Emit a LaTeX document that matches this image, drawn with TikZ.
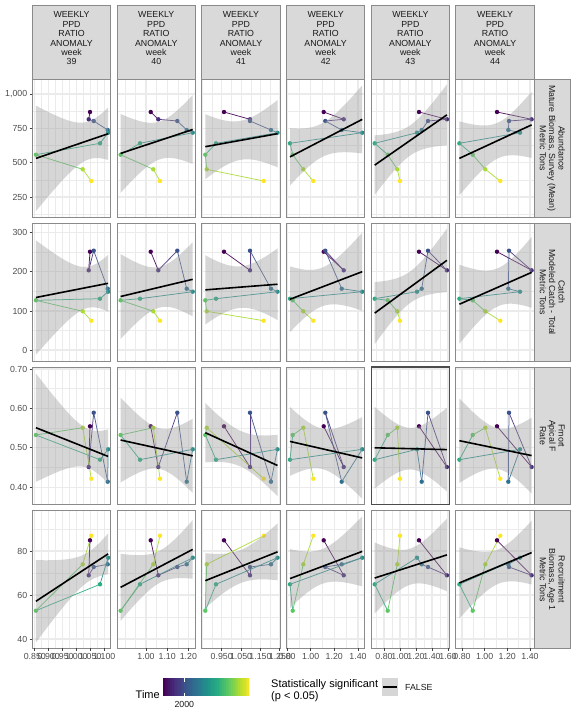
\documentclass[tikz,border=0pt]{standalone}
\usepackage{fontspec}
\setmainfont{Liberation Sans}
\definecolor{v0}{HTML}{440154}
\definecolor{v1}{HTML}{472D7B}
\definecolor{v2}{HTML}{3B528B}
\definecolor{v3}{HTML}{2C728E}
\definecolor{v4}{HTML}{21908C}
\definecolor{v5}{HTML}{27AD81}
\definecolor{v6}{HTML}{5DC863}
\definecolor{v7}{HTML}{AADC32}
\definecolor{v8}{HTML}{FDE725}
\definecolor{gridc}{HTML}{EBEBEB}
\definecolor{stripfill}{HTML}{D9D9D9}
\definecolor{bordc}{HTML}{8A8A8A}
\definecolor{axtext}{HTML}{4D4D4D}
\definecolor{bandc}{HTML}{999999}
\definecolor{keyfill}{HTML}{D6D6D6}
% data (pixel coordinates)
\def\cxA{{90,88.7,93.7,107.7,108.1,100,35.9,82.7,91.3}}
\def\cxB{{150.7,158.3,177.3,186.7,192.7,140,120.6,153.3,160}}
\def\cxC{{224,250,250,271,277.5,216,205.3,206.7,263.7}}
\def\cxD{{323.7,343.7,325.3,341.7,362.2,290,292.7,303.3,313.3}}
\def\cxE{{419,446.9,428,421.7,417,374.7,387.7,397.3,400}}
\def\cxF{{497,531.6,509,508.3,520,459.4,472.7,485.3,500.3}}
\def\ryA{{112,119.3,121,130,132.7,143.3,154.7,169.3,181}}
\def\ryB{{251.7,270.3,250.7,288.7,291.7,298.7,300.3,311.3,320.7}}
\def\ryC{{426.3,467,412.7,481.7,449.3,459.7,435,427.7,478.7}}
\def\ryD{{540.3,575.3,567,564.3,557.7,584.3,610.7,564.3,535.7}}
\def\setcolA{\def\pL{32.3}\def\pXarr{\cxA}\def\pXmaj{34.8,48.7,62.6,76.5,90.4,104.3}\def\pXmin{41.75,55.65,69.55,83.45,97.35}}
\def\setcolB{\def\pL{117.0}\def\pXarr{\cxB}\def\pXmaj{146,167.2,188.4}\def\pXmin{124.8,135.4,156.6,177.8}}
\def\setcolC{\def\pL{201.7}\def\pXarr{\cxC}\def\pXmaj{221.7,241.1,260.5,279.9}\def\pXmin{202.3,212,231.4,250.8,270.2}}
\def\setcolD{\def\pL{286.4}\def\pXarr{\cxD}\def\pXmaj{287,310.7,334.3,358}\def\pXmin{298.8,322.5,346.2}}
\def\setcolE{\def\pL{371.1}\def\pXarr{\cxE}\def\pXmaj{384,400,416,432,448}\def\pXmin{376,392,408,424,440}}
\def\setcolF{\def\pL{455.8}\def\pXarr{\cxF}\def\pXmaj{462,484.7,507.3,530}\def\pXmin{473.3,496,518.7}}
\def\setrowa{\def\pT{79.4}\def\pYarr{\ryA}\def\pYmaj{94,128.3,162.7,197}\def\pYmin{111.15,145.5,179.85,214.15}}
\def\setrowb{\def\pT{223.2}\def\pYarr{\ryB}\def\pYmaj{232.7,271.7,311,350}\def\pYmin{252.2,291.4,330.5}}
\def\setrowc{\def\pT{367.0}\def\pYarr{\ryC}\def\pYmaj{369,408.3,447.7,487.3}\def\pYmin{388.7,428,467.5}}
\def\setrowd{\def\pT{510.6}\def\pYarr{\ryD}\def\pYmaj{551,595,639}\def\pYmin{529,573,617}}
% linear regression in pixel space
\newcommand\regcalc[2]{%
  \xdef\rsx{0}\xdef\rsy{0}\xdef\rxmin{10000}\xdef\rxmax{0}%
  \foreach \k in {0,...,8}{%
    \pgfmathsetmacro\rtx{#1[\k]}\pgfmathsetmacro\rty{#2[\k]}%
    \pgfmathsetmacro\rta{\rsx+\rtx}\xdef\rsx{\rta}%
    \pgfmathsetmacro\rta{\rsy+\rty}\xdef\rsy{\rta}%
    \pgfmathsetmacro\rta{min(\rxmin,\rtx)}\xdef\rxmin{\rta}%
    \pgfmathsetmacro\rta{max(\rxmax,\rtx)}\xdef\rxmax{\rta}%
  }%
  \pgfmathsetmacro\rta{\rsx/9}\xdef\xbar{\rta}%
  \pgfmathsetmacro\rta{\rsy/9}\xdef\ybar{\rta}%
  \xdef\rsxx{0}\xdef\rsxy{0}\xdef\rsyy{0}%
  \foreach \k in {0,...,8}{%
    \pgfmathsetmacro\rtx{#1[\k]}\pgfmathsetmacro\rty{#2[\k]}%
    \pgfmathsetmacro\rdx{(\rtx-\xbar)/10}\pgfmathsetmacro\rdy{(\rty-\ybar)/10}%
    \pgfmathsetmacro\rta{\rsxx+\rdx*\rdx}\xdef\rsxx{\rta}%
    \pgfmathsetmacro\rta{\rsxy+\rdx*\rdy}\xdef\rsxy{\rta}%
    \pgfmathsetmacro\rta{\rsyy+\rdy*\rdy}\xdef\rsyy{\rta}%
  }%
  \pgfmathsetmacro\rta{\rsxy/\rsxx}\xdef\slope{\rta}%
  \pgfmathsetmacro\rta{max(\rsyy-\slope*\rsxy,0.0001)}%
  \pgfmathsetmacro\rtb{2.3646*10*sqrt(\rta/7)}\xdef\hw{\rtb}%
}
\newcommand\drawpanel[3]{%
  \csname setcol#1\endcsname\csname setrow#2\endcsname
  \pgfmathsetmacro\pR{\pL+78.5}\pgfmathsetmacro\pB{\pT+137.8}%
  \regcalc{\pXarr}{\pYarr}%
  \begin{scope}
    \clip (\pL,\pT) rectangle (\pR,\pB);
    \foreach \g in \pXmin {\draw[gridminor] (\g,\pT) -- (\g,\pB);}
    \foreach \g in \pYmin {\draw[gridminor] (\pL,\g) -- (\pR,\g);}
    \foreach \g in \pXmaj {\draw[gridmajor] (\g,\pT) -- (\g,\pB);}
    \foreach \g in \pYmaj {\draw[gridmajor] (\pL,\g) -- (\pR,\g);}
    \foreach \k in {0,...,7}{%
      \pgfmathtruncatemacro\kn{\k+1}%
      \pgfmathsetmacro\pxa{\pXarr[\k]}\pgfmathsetmacro\pya{\pYarr[\k]}%
      \pgfmathsetmacro\pxb{\pXarr[\kn]}\pgfmathsetmacro\pyb{\pYarr[\kn]}%
      \draw[pathseg, v\k] (\pxa,\pya) -- (\pxb,\pyb);
    }
    \foreach \k in {0,...,8}{%
      \pgfmathsetmacro\pxa{\pXarr[\k]}\pgfmathsetmacro\pya{\pYarr[\k]}%
      \fill[v\k] (\pxa,\pya) circle (2.2);
    }
    \fill[bandfill] plot[domain=\rxmin:\rxmax, samples=60, variable=\u] (\u,{\ybar+\slope*(\u-\xbar)+\hw*sqrt(1/9+(\u-\xbar)*(\u-\xbar)/(100*\rsxx))}) -- plot[domain=\rxmax:\rxmin, samples=60, variable=\u] (\u,{\ybar+\slope*(\u-\xbar)-\hw*sqrt(1/9+(\u-\xbar)*(\u-\xbar)/(100*\rsxx))}) -- cycle;
    \draw[regline] (\rxmin,{\ybar+\slope*(\rxmin-\xbar)}) -- (\rxmax,{\ybar+\slope*(\rxmax-\xbar)});
  \end{scope}
  \draw[#3] (\pL,\pT) rectangle (\pR,\pB);
}
\begin{document}
\begin{tikzpicture}[x=1pt,y=-1pt,
  gridmajor/.style={draw=gridc, line width=1.07pt},
  gridminor/.style={draw=gridc, line width=0.53pt},
  pathseg/.style={line width=0.75pt, opacity=0.9},
  bandfill/.style={fill=bandc, fill opacity=0.4},
  regline/.style={line width=1.6pt, black},
  pborder/.style={draw=bordc, line width=0.9pt},
  phigh/.style={draw=black!70, line width=1.2pt},
  stripbox/.style={fill=stripfill, draw=bordc, line width=0.9pt},
  striptext/.style={font=\fontsize{8.8}{9.4}\selectfont, text=black!90, align=center, inner sep=0},
  ticklabel/.style={font=\fontsize{8.8}{10}\selectfont, text=axtext, inner sep=0},
  tickmark/.style={draw=black!75, line width=0.9pt},
  legtitle/.style={font=\fontsize{11}{13}\selectfont, text=black, inner sep=0},
  legtext/.style={font=\fontsize{8.8}{10}\selectfont, text=black!90, inner sep=0}]
\useasboundingbox (0,0) rectangle (576,720);
\fill[white] (0,0) rectangle (576,720);
% panels
\drawpanel{A}{a}{pborder}\drawpanel{B}{a}{pborder}\drawpanel{C}{a}{pborder}
\drawpanel{D}{a}{pborder}\drawpanel{E}{a}{pborder}\drawpanel{F}{a}{pborder}
\drawpanel{A}{b}{pborder}\drawpanel{B}{b}{pborder}\drawpanel{C}{b}{pborder}
\drawpanel{D}{b}{pborder}\drawpanel{E}{b}{pborder}\drawpanel{F}{b}{pborder}
\drawpanel{A}{c}{pborder}\drawpanel{B}{c}{pborder}\drawpanel{C}{c}{pborder}
\drawpanel{D}{c}{pborder}\drawpanel{E}{c}{phigh}\drawpanel{F}{c}{pborder}
\drawpanel{A}{d}{pborder}\drawpanel{B}{d}{pborder}\drawpanel{C}{d}{pborder}
\drawpanel{D}{d}{pborder}\drawpanel{E}{d}{pborder}\drawpanel{F}{d}{pborder}
% top strips
\foreach \cl/\wk [count=\ci] in {32.3/39,117.0/40,201.7/41,286.4/42,371.1/43,455.8/44} {
  \draw[stripbox] (\cl,5.3) rectangle ({\cl+78.5},79.4);
  \node[striptext] (strip\ci) at ({\cl+39.25},38.4) {WEEKLY\\PPD\\RATIO\\ANOMALY\\week\\\wk};
}
% right strips
\draw[stripbox] (534.3,79.4) rectangle (570.3,217.2);
\node[striptext, rotate=-90] (rs1) at (552.3,148.3) {Abundance\\Mature Biomass, Survey (Mean)\\Metric Tons};
\draw[stripbox] (534.3,223.2) rectangle (570.3,361.0);
\node[striptext, rotate=-90] (rs2) at (552.3,292.1) {Catch\\Modeled Catch - Total\\Metric Tons};
\draw[stripbox] (534.3,367.0) rectangle (570.3,504.8);
\node[striptext, rotate=-90] (rs3) at (552.3,435.9) {Fmort\\Apical F\\Rate};
\draw[stripbox] (534.3,510.6) rectangle (570.3,648.4);
\node[striptext, rotate=-90] (rs4) at (552.3,579.5) {Recruitment\\Biomass, Age 1\\Metric Tons};
% y axes
\foreach \yy/\lab [count=\yi] in {94/{1,000},128.3/750,162.7/500,197/250,
  232.7/300,271.7/200,311/100,350/0,
  369/0.70,408.3/0.60,447.7/0.50,487.3/0.40,
  551/80,595/60,639/40} {
  \draw[tickmark] (29.55,\yy) -- (32.3,\yy);
  \node[ticklabel, anchor=east] (yl\yi) at (27.4,\yy) {\lab};
}
% x axes
\foreach \xx/\lab [count=\xi] in {34.8/0.850,48.7/0.900,62.6/0.950,76.5/1.000,90.4/1.050,104.3/1.100,
  146/1.00,167.2/1.10,188.4/1.20,
  221.7/0.950,241.1/1.050,260.5/1.150,279.9/1.250,
  287/0.80,310.7/1.00,334.3/1.20,358/1.40,
  384/0.80,400/1.00,416/1.20,432/1.40,448/1.60,
  462/0.80,484.7/1.00,507.3/1.20,530/1.40} {
  \draw[tickmark] (\xx,648.4) -- (\xx,651.15);
  \node[ticklabel, anchor=north] (xl\xi) at (\xx,653.3) {\lab};
}
% legend: colour bar
\node[legtitle, anchor=base west] (ltime) at (135.5,698.3) {Time};
\begin{scope}
  \clip (162.7,678.3) rectangle (249.3,696);
  \foreach \i [evaluate=\i as \j using int(\i+1)] in {0,...,7} {
    \foreach \s in {0,...,5} {
      \pgfmathsetmacro\xl{162.7+(\i*6+\s)*86.6/48}
      \pgfmathsetmacro\xr{\xl+86.6/48+0.3}
      \pgfmathtruncatemacro\pc{100-\s*100/6}
      \fill[v\i!\pc!v\j] (\xl,678.3) rectangle (\xr,696);
    }
  }
\end{scope}
\draw[white, line width=0.6pt] (184.3,678.3) -- (184.3,681.8);
\draw[white, line width=0.6pt] (184.3,696) -- (184.3,692.5);
\node[legtext, anchor=base] (l2000) at (184.3,707.2) {2000};
% legend: significance
\node[legtitle, anchor=base west] (lsig1) at (271,687.3) {Statistically significant};
\node[legtitle, anchor=base west] (lsig2) at (271,699.6) {(p < 0.05)};
\fill[keyfill] (381.7,678.3) rectangle (398.3,696);
\draw[regline] (383.4,687.2) -- (396.6,687.2);
\node[legtext, anchor=base west] (lfalse) at (405,690.5) {FALSE};
\end{tikzpicture}
\end{document}
